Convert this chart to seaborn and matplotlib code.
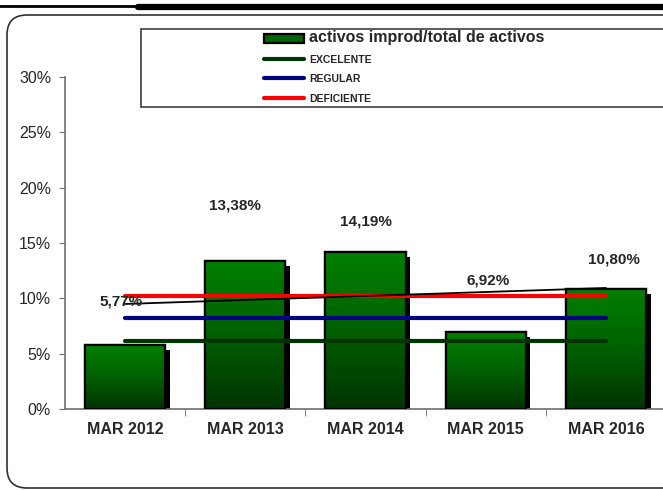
import numpy as np
import pandas as pd
import seaborn as sns
import matplotlib.pyplot as plt
from matplotlib.patches import Rectangle, Patch, FancyBboxPatch
from matplotlib.lines import Line2D
from matplotlib.colors import LinearSegmentedColormap
from matplotlib.transforms import IdentityTransform
import matplotlib.patheffects as pe

# data
years = ["MAR 2012", "MAR 2013", "MAR 2014", "MAR 2015", "MAR 2016"]
ratio = [5.77, 13.38, 14.19, 6.92, 10.80]
excelente = [6.1] * 5
regular = [8.2] * 5
deficiente = [10.2] * 5
labels = ["5,77%", "13,38%", "14,19%", "6,92%", "10,80%"]

# where the value labels sit (as in the original chart)
label_x = [-0.03, 0.91, 2.0, 3.02, 4.07]
label_y = [9.67, 18.43, 16.98, 11.65, 13.55]

sns.set_style("white")
plt.rcParams['font.family'] = ['Liberation Sans', 'DejaVu Sans']

df = pd.DataFrame({"year": years, "ratio": ratio})
pos = np.arange(len(years))

fig = plt.figure(figsize=(6.63, 4.90), dpi=100)
W, H = 663, 490
ax = fig.add_axes([65 / W, (H - 409) / H, (666 - 65) / W, (409 - 77) / H])

sns.barplot(data=df, x="year", y="ratio", color="#007000", width=0.667,
            edgecolor="black", linewidth=1.6, saturation=1, ax=ax, zorder=2)

green = LinearSegmentedColormap.from_list("g", ["#003300", "#006000", "#008000"])
grad = np.linspace(0, 1, 256).reshape(-1, 1)
for p in ax.patches:
    p.set_path_effects([pe.SimplePatchShadow(offset=(3.3, -3.3), shadow_rgbFace="black", alpha=1),
                        pe.Normal()])
    x0, w, h = p.get_x(), p.get_width(), p.get_height()
    im = ax.imshow(grad, extent=[x0, x0 + w, 0, h], origin="lower", aspect="auto",
                   cmap=green, zorder=2.5)
    im.set_clip_path(p)
    ax.add_patch(Rectangle((x0, 0), w, h, fill=False, edgecolor="black",
                           linewidth=1.6, zorder=3))

sns.lineplot(x=pos, y=excelente, color="#003300", lw=3, ax=ax, zorder=4)
sns.lineplot(x=pos, y=regular, color="#000080", lw=3, ax=ax, zorder=4)
sns.lineplot(x=pos, y=deficiente, color="#ff0000", lw=3, ax=ax, zorder=4)
sns.regplot(x=pos, y=np.array(ratio), ci=None, scatter=False, truncate=True,
            line_kws=dict(color="black", lw=1.3, zorder=5), ax=ax)

for lx, ly, t in zip(label_x, label_y, labels):
    ax.text(lx, ly, t, ha="center", va="center", fontsize=11,
            fontweight="bold", zorder=6)

ax.set_xlim(-0.5, 4.5)
ax.set_ylim(0, 30)
ax.set_yticks(range(0, 31, 5))
ax.set_yticklabels([f"{v}%" for v in range(0, 31, 5)], fontsize=11.5)
ax.set_xticks(pos)
ax.set_xticklabels(years, fontsize=11.5, fontweight="bold")
ax.set_xticks(pos[:-1] + 0.5, minor=True)
ax.tick_params(axis="x", which="major", length=0, pad=9)
ax.tick_params(axis="x", which="minor", length=5, direction="out", color="#707070", bottom=True)
ax.tick_params(axis="y", length=4, direction="out", color="#707070", pad=6, left=True)
ax.set_xlabel("")
ax.set_ylabel("")
for s in ["top", "right"]:
    ax.spines[s].set_visible(False)
for s in ["left", "bottom"]:
    ax.spines[s].set_color("#707070")
    ax.spines[s].set_linewidth(1.2)
ax.set_facecolor("none")

# frame and top rules
frame = FancyBboxPatch((7, H - 488), 720, 473, boxstyle="round,pad=0,rounding_size=20",
                       transform=IdentityTransform(), facecolor="none",
                       edgecolor="#303030", linewidth=1.2, zorder=0)
fig.patches.append(frame)
fig.lines.append(Line2D([0, 138 / W], [1 - 6 / H, 1 - 6 / H], transform=fig.transFigure,
                        color="black", lw=2))
fig.lines.append(Line2D([138 / W, 1], [1 - 7 / H, 1 - 7 / H], transform=fig.transFigure,
                        color="black", lw=4.5))

# legend box
fig.patches.append(Rectangle((141 / W, 1 - 107 / H), 0.9, 78 / H, transform=fig.transFigure,
                             facecolor="white", edgecolor="#404040", lw=1.2, zorder=1))
handles = [Patch(facecolor="#006400", edgecolor="black", lw=1.6),
           Line2D([], [], color="#003300", lw=3),
           Line2D([], [], color="#000080", lw=3),
           Line2D([], [], color="#ff0000", lw=3)]
names = ["activos improd/total de activos", "EXCELENTE", "REGULAR", "DEFICIENTE"]
leg = fig.legend(handles, names, loc="upper left", bbox_to_anchor=(264 / W, 1 - 30 / H),
                 frameon=False, fontsize=7.5, handlelength=3.85, handleheight=0.9,
                 handletextpad=0.45, labelspacing=0.92, borderpad=0, borderaxespad=0)
for i, t in enumerate(leg.get_texts()):
    t.set_fontweight("bold")
    if i == 0:
        t.set_fontsize(11.5)
leg.set_zorder(2)

fig.savefig("out.png", dpi=100)
